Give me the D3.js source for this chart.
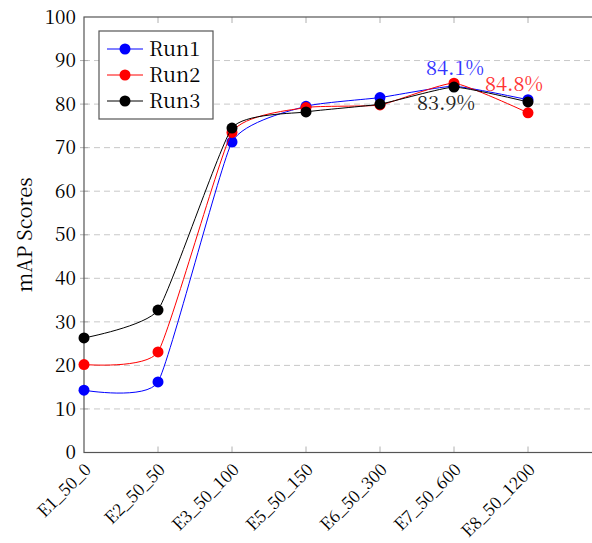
<!DOCTYPE html>
<html>
<head>
<meta charset="utf-8">
<script src="https://cdn.jsdelivr.net/npm/d3@7"></script>
<style>
  body { margin: 0; background: #fff; }
</style>
</head>
<body>
<div id="chart"></div>
<script>
const categories = ["E1_50_0", "E2_50_50", "E3_50_100", "E5_50_150", "E6_50_300", "E7_50_600", "E8_50_1200"];
const run1 = [14.3, 16.2, 71.3, 79.5, 81.5, 84.1, 81.0];
const run2 = [20.2, 23.1, 73.5, 79.2, 79.8, 84.8, 78.0];
const run3 = [26.3, 32.7, 74.5, 78.2, 80.0, 83.9, 80.5];
const yTicks = [0, 10, 20, 30, 40, 50, 60, 70, 80, 90, 100];

const series = [
    { name: "Run1", color: "#0000ff", values: run1 },
    { name: "Run2", color: "#ff0000", values: run2 },
    { name: "Run3", color: "#000000", values: run3 }
];

// value labels placed by hand near the peak points
const notes = [
    { text: "84.1%", color: "#3333ff", series: 0, i: 5, dx: 1, dy: -18 },
    { text: "84.8%", color: "#ff3333", series: 1, i: 6, dx: -14, dy: -29 },
    { text: "83.9%", color: "#222", series: 2, i: 5, dx: -8, dy: 16 }
];

const width = 592, height = 543;
const x = d3.scaleLinear([0, 6], [84, 528]);
const y = d3.scaleLinear([0, 100], [452.5, 17]);
const xRight = x(7.3);

const svg = d3.select('#chart')
    .append('svg')
    .attr('width', width)
    .attr('height', height)
    .attr('font-family', "'Noto Serif CJK SC', 'Liberation Serif', serif");

// grid
svg.append('g')
    .selectAll('line')
    .data(yTicks.filter(d => d > 0 && d < 100))
    .join('line')
    .attr('x1', x(0))
    .attr('x2', xRight)
    .attr('y1', d => y(d))
    .attr('y2', d => y(d))
    .attr('stroke', '#c8c8c8')
    .attr('stroke-width', 1)
    .attr('stroke-dasharray', '6,4');

// small ticks
let ticks = svg.append('g').attr('stroke', '#b0b0b0').attr('stroke-width', 1);
ticks.selectAll('.yt')
    .data(yTicks.filter(d => d > 0 && d < 100))
    .join('line')
    .attr('x1', x(0) - 4)
    .attr('x2', x(0) + 4)
    .attr('y1', d => y(d))
    .attr('y2', d => y(d));
ticks.selectAll('.xb')
    .data(categories.slice(1))
    .join('line')
    .attr('x1', (d, i) => x(i + 1))
    .attr('x2', (d, i) => x(i + 1))
    .attr('y1', y(0) - 6)
    .attr('y2', y(0));
ticks.selectAll('.xt')
    .data(categories.slice(1))
    .join('line')
    .attr('x1', (d, i) => x(i + 1))
    .attr('x2', (d, i) => x(i + 1))
    .attr('y1', y(100))
    .attr('y2', y(100) + 6);

// frame
svg.append('rect')
    .attr('x', x(0))
    .attr('y', y(100))
    .attr('width', xRight - x(0))
    .attr('height', y(0) - y(100))
    .attr('fill', 'none')
    .attr('stroke', '#555')
    .attr('stroke-width', 1.2);

// y tick labels
svg.append('g')
    .attr('font-size', 19)
    .attr('text-anchor', 'end')
    .selectAll('text')
    .data(yTicks)
    .join('text')
    .attr('x', x(0) - 8)
    .attr('y', d => y(d))
    .attr('dy', '0.35em')
    .text(d => d);

// x tick labels
svg.append('g')
    .attr('font-size', 17)
    .attr('text-anchor', 'end')
    .selectAll('text')
    .data(categories)
    .join('text')
    .attr('transform', (d, i) => `translate(${x(i) + 4}, ${y(0) + 14}) rotate(-45)`)
    .attr('dy', '0.35em')
    .text(d => d);

// y axis title
svg.append('text')
    .attr('font-size', 20)
    .attr('text-anchor', 'middle')
    .attr('transform', `translate(32, ${y(50)}) rotate(-90)`)
    .text('mAP Scores');

const line = d3.line()
    .x((d, i) => x(i))
    .y(d => y(d))
    .curve(d3.curveCardinal.tension(0.55));

series.forEach(s => {
    svg.append('path')
        .datum(s.values)
        .attr('d', line)
        .attr('fill', 'none')
        .attr('stroke', s.color)
        .attr('stroke-width', 1);
    svg.append('g')
        .selectAll('circle')
        .data(s.values)
        .join('circle')
        .attr('cx', (d, i) => x(i))
        .attr('cy', d => y(d))
        .attr('r', 5.5)
        .attr('fill', s.color);
});

// notes
svg.append('g')
    .attr('font-size', 20)
    .attr('text-anchor', 'middle')
    .selectAll('text')
    .data(notes)
    .join('text')
    .attr('x', d => x(d.i) + d.dx)
    .attr('y', d => y(series[d.series].values[d.i]) + d.dy)
    .attr('dy', '0.35em')
    .attr('fill', d => d.color)
    .text(d => d.text);

// legend
let lg = svg.append('g').attr('transform', 'translate(99, 31)');
lg.append('rect')
    .attr('width', 114)
    .attr('height', 88)
    .attr('fill', '#fff')
    .attr('stroke', '#555')
    .attr('stroke-width', 1.2);
let item = lg.selectAll('g')
    .data(series)
    .join('g')
    .attr('transform', (d, i) => `translate(0, ${18 + i * 26})`);
item.append('line')
    .attr('x1', 8).attr('x2', 44)
    .attr('stroke', d => d.color)
    .attr('stroke-width', 1);
item.append('circle')
    .attr('cx', 26)
    .attr('r', 5.5)
    .attr('fill', d => d.color);
item.append('text')
    .attr('x', 50)
    .attr('dy', '0.35em')
    .attr('font-size', 20)
    .text(d => d.name);
</script>
</body>
</html>
